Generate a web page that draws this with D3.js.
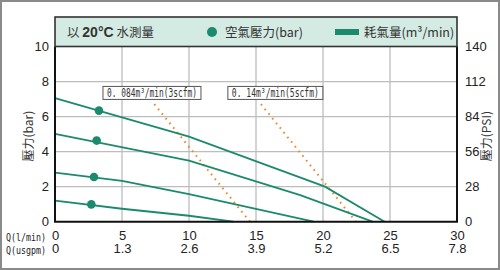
<!DOCTYPE html>
<html>
<head>
<meta charset="utf-8">
<script src="https://cdn.jsdelivr.net/npm/d3@7"></script>
<style>
  body { margin: 0; background: #fff; }
  svg { display: block; }
</style>
</head>
<body>
<figure style="margin:0"></figure>
<script>
const width = 500
const height = 270

// flow ticks (l/min) and matching usgpm labels
const flowTicks = [0, 5, 10, 15, 20, 25, 30]
const usgpmLabels = ['0', '1.3', '2.6', '3.9', '5.2', '6.5', '7.8']
const barTicks = [0, 2, 4, 6, 8, 10]
const psiTicks = [0, 28, 56, 84, 112, 140]

// pressure curves, [flow l/min, pressure bar]
const curve1 = [[0, 7.05], [10, 4.86], [20.15, 2.0], [24.6, 0]]
const curve2 = [[0, 5.01], [10, 3.49], [18.3, 1.52], [23.7, 0]]
const curve3 = [[0, 2.8], [5, 2.33], [10, 1.57], [19.3, 0]]
const curve4 = [[0, 1.2], [5, 0.74], [10, 0.34], [13.3, 0]]
const curves = [curve1, curve2, curve3, curve4]

// marked set pressures on each curve
const dots = [[3.28, 6.34], [3.11, 4.63], [2.91, 2.55], [2.71, 0.99]]

// air consumption lines
const consumption = [
  { label: '0. 084m³/min(3scfm)', pts: [[7.41, 6.71], [14.55, 0]], box: [3.58, 7.35], w: 98 },
  { label: '0. 14m³/min(5scfm)', pts: [[15.37, 6.71], [22.46, 0]], box: [12.9, 7.35], w: 95 }
]

const green = '#1c8a6c'
const orange = '#f0852a'

const margin = { left: 55, right: 43, top: 46.5, bottom: 48.3 }
const x = d3.scaleLinear().domain([0, 30]).range([margin.left, width - margin.right])
const y = d3.scaleLinear().domain([0, 10]).range([height - margin.bottom, margin.top])
const yPsi = d3.scaleLinear().domain([0, 140]).range([height - margin.bottom, margin.top])

const svg = d3.select('figure').append('svg')
  .attr('width', width)
  .attr('height', height)

// outer frame
svg.append('rect')
  .attr('x', 1).attr('y', 1)
  .attr('width', width - 2).attr('height', height - 2)
  .attr('fill', '#fff')
  .attr('stroke', '#8a8a8a')
  .attr('stroke-width', 2)

// grid
svg.append('g')
  .selectAll('line')
  .data(flowTicks.slice(1, -1))
  .join('line')
  .attr('x1', d => x(d)).attr('x2', d => x(d))
  .attr('y1', y(0)).attr('y2', y(10))
  .attr('stroke', '#bdbdbd')
  .attr('stroke-width', 1.3)

svg.append('g')
  .selectAll('line')
  .data(barTicks.slice(1, -1))
  .join('line')
  .attr('x1', x(0)).attr('x2', x(30))
  .attr('y1', d => y(d)).attr('y2', d => y(d))
  .attr('stroke', '#bdbdbd')
  .attr('stroke-width', 1.3)

// axes
const axisFont = '"Liberation Sans", Arial, sans-serif'

const left = svg.append('g')
  .attr('transform', `translate(${x(0)},0)`)
  .call(d3.axisLeft(y).tickValues(barTicks).tickSize(0).tickPadding(6))
left.select('.domain').remove()

const right = svg.append('g')
  .attr('transform', `translate(${x(30)},0)`)
  .call(d3.axisRight(yPsi).tickValues(psiTicks).tickSize(0).tickPadding(8))
right.select('.domain').remove()

const bottom1 = svg.append('g')
  .attr('transform', `translate(0,${y(0)})`)
  .call(d3.axisBottom(x).tickValues(flowTicks).tickSize(0).tickPadding(9))
bottom1.select('.domain').remove()

const bottom2 = svg.append('g')
  .attr('transform', `translate(0,${y(0) + 13})`)
  .call(d3.axisBottom(x).tickValues(flowTicks).tickSize(0).tickPadding(9)
    .tickFormat((d, i) => usgpmLabels[i]))
bottom2.select('.domain').remove()

svg.selectAll('.tick text')
  .attr('font-family', axisFont)
  .attr('font-size', 13)
  .attr('fill', '#222')

// axis titles
const cjk = '"Noto Sans CJK TC", "Noto Sans CJK JP", sans-serif'
svg.append('text')
  .attr('transform', `translate(33,${y(5) + 2}) rotate(-90)`)
  .attr('text-anchor', 'middle')
  .attr('font-family', cjk)
  .attr('font-size', 12)
  .attr('fill', '#333')
  .text('壓力(bar)')

svg.append('text')
  .attr('transform', `translate(491,${y(5) + 2}) rotate(-90)`)
  .attr('text-anchor', 'middle')
  .attr('font-family', cjk)
  .attr('font-size', 12)
  .attr('fill', '#333')
  .text('壓力(PSI)')

const mono = '"DejaVu Sans Mono", monospace'
svg.append('text')
  .attr('x', 6).attr('y', 241)
  .attr('font-family', mono)
  .attr('font-size', 10)
  .attr('textLength', 40)
  .attr('lengthAdjust', 'spacingAndGlyphs')
  .attr('fill', '#222')
  .text('Q(l/min)')
svg.append('text')
  .attr('x', 6).attr('y', 254)
  .attr('font-family', mono)
  .attr('font-size', 10)
  .attr('textLength', 40)
  .attr('lengthAdjust', 'spacingAndGlyphs')
  .attr('fill', '#222')
  .text('Q(usgpm)')

// consumption lines (dotted)
const line = d3.line().x(d => x(d[0])).y(d => y(d[1]))

svg.append('g')
  .selectAll('path')
  .data(consumption)
  .join('path')
  .attr('d', d => line(d.pts))
  .attr('fill', 'none')
  .attr('stroke', orange)
  .attr('stroke-width', 2)
  .attr('stroke-dasharray', '1.6,4.4')

// pressure curves
svg.append('g')
  .selectAll('path')
  .data(curves)
  .join('path')
  .attr('d', line)
  .attr('fill', 'none')
  .attr('stroke', green)
  .attr('stroke-width', 1.8)

svg.append('g')
  .selectAll('circle')
  .data(dots)
  .join('circle')
  .attr('cx', d => x(d[0]))
  .attr('cy', d => y(d[1]))
  .attr('r', 4.3)
  .attr('fill', green)

// consumption labels
const labels = svg.append('g')
  .selectAll('g')
  .data(consumption)
  .join('g')
  .attr('transform', d => `translate(${x(d.box[0])},${y(d.box[1])})`)

labels.append('rect')
  .attr('x', 0).attr('y', -6.5)
  .attr('width', d => d.w).attr('height', 13)
  .attr('fill', '#fff')
  .attr('stroke', '#555')
  .attr('stroke-width', 1)

labels.append('text')
  .attr('x', 4)
  .attr('y', 4.2)
  .attr('font-family', mono)
  .attr('font-size', 12)
  .attr('textLength', d => d.w - 8)
  .attr('lengthAdjust', 'spacingAndGlyphs')
  .attr('fill', '#333')
  .text(d => d.label)

// plot frame
svg.append('path')
  .attr('d', `M${x(0)},${y(10)}V${y(0)}H${x(30)}V${y(10)}`)
  .attr('fill', 'none')
  .attr('stroke', '#111')
  .attr('stroke-width', 2)

// legend box
const legend = svg.append('g')
legend.append('rect')
  .attr('x', x(0)).attr('y', 17)
  .attr('width', x(30) - x(0)).attr('height', y(10) - 17)
  .attr('fill', '#d3ebe3')
  .attr('stroke', '#333')
  .attr('stroke-width', 1.6)

const legendY = 37
const t1 = legend.append('text')
  .attr('x', 67).attr('y', legendY)
  .attr('font-family', cjk)
  .attr('font-size', 12.5)
  .attr('fill', '#333')
t1.append('tspan').text('以 ')
t1.append('tspan').attr('font-family', axisFont).attr('font-size', 14).attr('font-weight', 'bold').text('20°C')
t1.append('tspan').text(' 水測量')

legend.append('circle')
  .attr('cx', 212).attr('cy', 32)
  .attr('r', 5)
  .attr('fill', green)
legend.append('text')
  .attr('x', 225).attr('y', legendY)
  .attr('font-family', cjk)
  .attr('font-size', 12.5)
  .attr('fill', '#333')
  .text('空氣壓力(bar)')

legend.append('rect')
  .attr('x', 335).attr('y', 29)
  .attr('width', 24).attr('height', 6)
  .attr('fill', green)
legend.append('text')
  .attr('x', 364).attr('y', legendY)
  .attr('font-family', cjk)
  .attr('font-size', 12.5)
  .attr('fill', '#333')
  .text('耗氣量(m³/min)')
</script>
</body>
</html>
